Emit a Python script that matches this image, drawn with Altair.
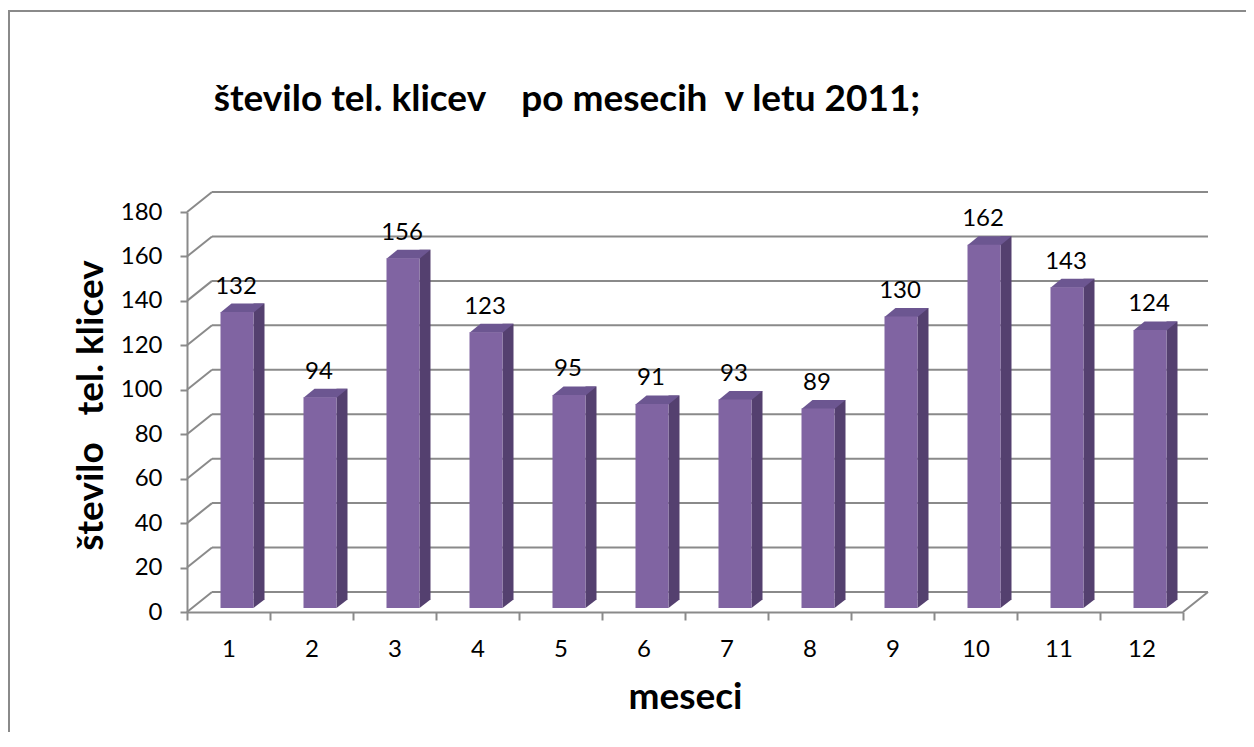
import altair as alt
import pandas as pd

months = [1, 2, 3, 4, 5, 6, 7, 8, 9, 10, 11, 12]
calls = [132, 94, 156, 123, 95, 91, 93, 89, 130, 162, 143, 124]
grid_levels = [0, 20, 40, 60, 80, 100, 120, 140, 160, 180]

chart_title = "število tel. klicev\u00a0\u00a0\u00a0 po mesecih\u00a0 v letu 2011;"
y_title = "število\u00a0\u00a0 tel. klicev"
x_title = "meseci"

FONT = "Lato"
GRAY = "#8a8a8a"
FRONT = "#8064a2"
TOP = "#6c5691"
SIDE = "#54406f"

W, H = 996, 400
PAD = {"left": 179, "top": 204, "right": 63, "bottom": 120}

df = pd.DataFrame({"m": months, "v": calls})
grid = pd.DataFrame({"g": grid_levels})
floor = pd.DataFrame({"g": [0]})
ttl = pd.DataFrame({"t": [chart_title]})

x_axis = alt.Axis(
    labelAngle=0, tickBand="extent", tickSize=8, tickColor=GRAY, tickWidth=2,
    domainColor=GRAY, domainWidth=2, labelFont=FONT, labelFontSize=24,
    labelColor="black", labelPadding=36, labelBaseline="alphabetic",
    titleFont=FONT, titleFontSize=37, titleFontWeight="bold", titleColor="black",
    titleY=96, titleBaseline="alphabetic", grid=False,
)
xscale = alt.Scale(type="band", paddingInner=0, paddingOuter=0)
X = alt.X("m:O", scale=xscale, axis=x_axis, title=x_title)

front_scale = alt.Scale(domain=[0, 180], nice=False, zero=True)
bar_scale = alt.Scale(domain=[0, 178.4], nice=False, zero=True)

# chart-area frame (only its top and left edges fall inside the picture)
frame = alt.Chart(floor).mark_rect(fill="transparent", stroke=GRAY, strokeWidth=2).encode(
    x=alt.value(-178), x2=alt.value(W + 300), y=alt.value(-201), y2=alt.value(H + 300))

# back wall gridlines
back = alt.Chart(grid).mark_rule(color=GRAY, strokeWidth=2, yOffset=-20).encode(
    x=alt.value(25), x2=alt.value(W + 25),
    y=alt.Y("g:Q", scale=front_scale, axis=None))

# side wall diagonals (carry the y axis)
diag = alt.Chart(grid).mark_rule(color=GRAY, strokeWidth=2, y2Offset=-20).encode(
    x=alt.value(0), x2=alt.value(25),
    y=alt.Y("g:Q", scale=front_scale, title=y_title, axis=alt.Axis(
        values=grid_levels, tickSize=7, tickColor=GRAY, tickWidth=2,
        domainColor=GRAY, domainWidth=2, labelFont=FONT, labelFontSize=24,
        labelColor="black", labelPadding=18, grid=False,
        titleFont=FONT, titleFontSize=37, titleFontWeight="bold", titleColor="black",
        titleAngle=270, titleX=-96, titleY=193, titleAlign="center",
        titleBaseline="middle")),
    y2="g:Q")

floor_right = alt.Chart(floor).mark_rule(color=GRAY, strokeWidth=2, y2Offset=-20).encode(
    x=alt.value(W), x2=alt.value(W + 25),
    y=alt.Y("g:Q", scale=front_scale, axis=None), y2="g:Q")

base = alt.Chart(df).transform_calculate(zero="0")

side = base.mark_bar(size=11, xOffset=30.5, yOffset=-12.5, y2Offset=-12.5,
                     color=SIDE, opacity=1).encode(
    x=X, y=alt.Y("v:Q", scale=bar_scale, axis=None), y2=alt.Y2("zero:Q"))

tri_path = "M0,0L0,-0.3L0.3667,-0.3L0.3667,-0.2833Z"
bottom_tri = base.mark_point(shape=tri_path, size=3600, filled=True, color=SIDE,
                             opacity=1, strokeWidth=0, xOffset=25, yOffset=-4).encode(
    x=X, y=alt.Y("zero:Q", scale=bar_scale, axis=None))

top_path = "M-0.55,0.0167L0.55,0.0167L0.9167,-0.2833L-0.1833,-0.2833Z"
top = base.mark_point(shape=top_path, size=3600, filled=True, color=TOP,
                      opacity=1, strokeWidth=0, xOffset=8.5, yOffset=-4).encode(
    x=X, y=alt.Y("v:Q", scale=bar_scale, axis=None))

front = base.mark_bar(size=33, xOffset=8.5, yOffset=-4, y2Offset=-4,
                      color=FRONT, opacity=1).encode(
    x=X, y=alt.Y("v:Q", scale=bar_scale, axis=None), y2=alt.Y2("zero:Q"))

labels = base.mark_text(font=FONT, fontSize=24, color="black", baseline="alphabetic",
                        align="center", xOffset=7.5, yOffset=-22.5).encode(
    x=X, y=alt.Y("v:Q", scale=bar_scale, axis=None), text="v:Q")

title = alt.Chart(ttl).mark_text(font=FONT, fontSize=37, fontWeight="bold",
                                 color="black", align="center",
                                 baseline="alphabetic").encode(
    x=alt.value(380), y=alt.value(-101), text="t:N")

chart = alt.layer(
    frame, back, diag, floor_right,
    side, bottom_tri, top, front, labels, title
).resolve_scale(y="independent").properties(
    width=W, height=H,
    autosize=alt.AutoSizeParams(type="none"),
    padding=PAD,
    background="white",
).configure_view(stroke="transparent")

chart.save("out.html", embed_options={"renderer": "svg", "actions": False})
